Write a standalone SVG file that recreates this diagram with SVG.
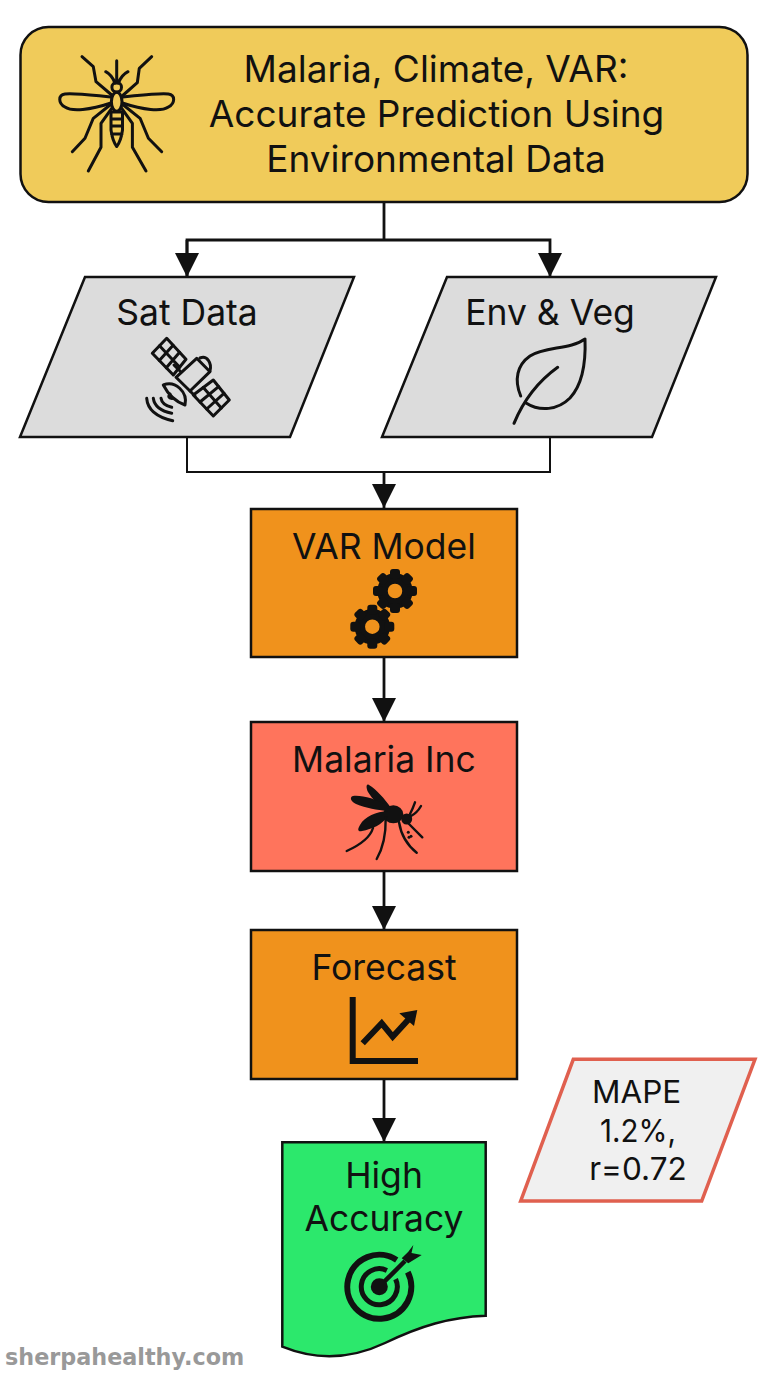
<svg xmlns="http://www.w3.org/2000/svg" width="768" height="1376" viewBox="0 0 768 1376">
<style>
text{font-family:"Inter","Liberation Sans",sans-serif;fill:#111;text-anchor:middle}
.t{font-size:35.5px}
.h{font-size:37px}
.m{font-size:31.5px}
.box{stroke:#111;stroke-width:2.5}
.ic{fill:none;stroke:#111;stroke-width:3;stroke-linecap:round;stroke-linejoin:round}
.c{fill:none;stroke:#111;stroke-width:2.8}
.c2{fill:none;stroke:#111;stroke-width:2}
</style>
<defs>
<marker id="ah" markerUnits="userSpaceOnUse" markerWidth="24" markerHeight="24" refX="24" refY="12" orient="auto"><path d="M0,0L24,12L0,24Z" fill="#111"/></marker>
<g id="gear"><circle r="12.5" fill="none" stroke="#111" stroke-width="10.500"/>
<g fill="#111"><rect x="-5" y="-22" width="10" height="10" rx="3"/><rect x="-5" y="-22" width="10" height="10" rx="3" transform="rotate(45)"/><rect x="-5" y="-22" width="10" height="10" rx="3" transform="rotate(90)"/><rect x="-5" y="-22" width="10" height="10" rx="3" transform="rotate(135)"/><rect x="-5" y="-22" width="10" height="10" rx="3" transform="rotate(180)"/><rect x="-5" y="-22" width="10" height="10" rx="3" transform="rotate(225)"/><rect x="-5" y="-22" width="10" height="10" rx="3" transform="rotate(270)"/><rect x="-5" y="-22" width="10" height="10" rx="3" transform="rotate(315)"/></g></g>
</defs>
<rect width="768" height="1376" fill="#fff"/>
<g id="connectors">
<path class="c" d="M384,202V240M187,277V240H550V277" marker-end="url(#ah)"/>
<path class="c" d="M187,240V277" marker-end="url(#ah)"/>
<path class="c2" d="M187,437V472H550V437"/>
<path class="c" d="M384,472V508" marker-end="url(#ah)"/>
<path class="c" d="M384,657V722" marker-end="url(#ah)"/>
<path class="c" d="M384,871V930" marker-end="url(#ah)"/>
<path class="c" d="M384,1079V1142" marker-end="url(#ah)"/>
</g>
<g id="title">
<rect class="box" x="20.500" y="27" width="727" height="175" rx="28" fill="#F0CB5A"/>
<text class="h" x="436" y="82">Malaria, Climate, VAR:</text>
<text class="h" x="436.500" y="127">Accurate Prediction Using</text>
<text class="h" x="436" y="172">Environmental Data</text>
<g class="ic">
<path d="M82,56.700L93.300,66.700L96,81.700L111.700,95M151.700,56.700L139.300,68.300L137.300,82.700L123.300,95"/>
<path d="M116.700,60.700V83M105.700,71.700Q112,75 115,83.300M128,71.700Q121.500,75 118.300,83.300"/>
<circle cx="116.700" cy="87.300" r="4.800"/>
<ellipse cx="116.700" cy="101.700" rx="5.300" ry="9.500"/>
<path d="M111,112V130Q112.500,141 116.700,146.500Q121,141 122.500,130V112ZM111,119H122.500M111,126H122.500M111.500,134H122"/>
<path d="M111,97C90,95 75,93 65,94C58,95 58,103 65,107C72,112 90,110 111,103"/>
<path d="M122.400,97C143.400,95 158.400,93 168.400,94C175.400,95 175.400,103 168.400,107C161.400,112 143.400,110 122.400,103"/>
<path d="M110,105L93.300,118.300L85,138.300L72.300,151.700M111.700,108.300L101,123.300V147.300L88.300,171"/>
<path d="M123.400,105L140.100,118.300L148.400,138.300L161.700,151.700M121.700,108.300L132.400,123.300V147.300L146,171"/>
</g>
</g>
<g id="sat-data">
<polygon class="box" points="85,277 354,277 290,437 20,437" fill="#DCDCDC"/>
<text class="t" x="187" y="325">Sat Data</text>
<g class="ic">
<polygon points="166.700,338.300 186,359.300 173.300,375 152.300,353.300"/>
<path d="M173.100,345.300L159.300,360.500M179.600,352.300L166.300,367.800M159.500,345.800L179.700,367.200"/>
<polygon points="213.300,380 229.300,400 213.300,416 193.300,395"/>
<path d="M218.600,386.700L200,402M224,393.300L206.700,409M203.300,387.500L221.300,408"/>
<polygon points="196.700,358.300 210,371.700 190,391 176,377.300"/>
<path d="M200,358C207,355 212,363 210,371M180,371L174,365M190,391L195,396"/>
<path d="M163.300,385C175,380 188,392 185,405Q171,400 163.300,385Z"/>
<path d="M170,394Q167,398 172,398.500"/>
<path d="M146.700,398.300Q148,415 172.700,420.700M153.300,398.300Q155,410 171.700,413.300M161,398.300Q162,405 171.700,407.300"/>
</g>
</g>
<g id="env-veg">
<polygon class="box" points="447,277 716,277 652,437 382,437" fill="#DCDCDC"/>
<text class="t" x="550" y="325">Env &amp; Veg</text>
<g class="ic">
<path d="M520.700,396C514,380 517,365 530,356C545,346 570,350 585,339C586,365 582,385 570,398C558,410 540,412 526,403"/>
<path d="M557.700,367.300C540,380 525,397 514,423.300"/>
</g>
</g>
<g id="var-model">
<rect class="box" x="251" y="509" width="266" height="148" fill="#F0921C"/>
<text class="t" x="384" y="559">VAR Model</text>
<use href="#gear" x="395" y="591"/>
<use href="#gear" x="372.300" y="626.700"/>
</g>
<g id="malaria-inc">
<rect class="box" x="251" y="722" width="266" height="149" fill="#FF745C"/>
<text class="t" x="384" y="772">Malaria Inc</text>
<g fill="#111">
<ellipse cx="393.300" cy="814.300" rx="10" ry="9"/>
<circle cx="406.700" cy="819" r="5.500"/>
<path d="M391,808C385,799 376,789 369,785C366,783 366,788 368,792C372,799 380,806 385,809Z"/>
<path d="M386,805C376,799 362,795 353,796C349,797 351,802 356,804C366,808 378,810 386,811Z"/>
<path d="M388,811C376,812 365,816 360,825C357,830 358,832 362,831C372,829 382,825 388,816Z"/>
<circle cx="408.300" cy="832.300" r="1.500"/><circle cx="411" cy="836.300" r="1.500"/><circle cx="409" cy="837.300" r="1.500"/>
</g>
<g fill="none" stroke="#111" stroke-linecap="round" stroke-width="2.400">
<path d="M373,828C370,838 360,845 346.700,851"/>
<path d="M385.700,818C386,835 383,848 376.700,859"/>
<path d="M399,822C401,835 407,845 416.700,852.700"/>
<path d="M408,823L422.300,837.300"/>
<path d="M410,814Q413,808 415,802.300M411,816Q417,813 421,806"/>
</g>
</g>
<g id="forecast">
<rect class="box" x="251" y="930" width="266" height="149" fill="#F0921C"/>
<text class="t" x="384" y="980">Forecast</text>
<path d="M352.700,997V1061H418" fill="none" stroke="#111" stroke-width="6"/>
<path d="M362.700,1043.300L381.700,1023.300L392.700,1036.700L408,1020" fill="none" stroke="#111" stroke-width="6"/>
<polygon points="399.300,1013.300 417.300,1010 414,1026" fill="#111"/>
</g>
<g id="high-accuracy">
<path class="box" d="M282.300,1142.300H485.700V1315.700C450,1317 420,1326 385,1343C345,1362 310,1358 282.300,1346.700Z" fill="#2CE86C"/>
<text class="t" x="384" y="1188">High</text>
<text class="t" x="384" y="1231">Accuracy</text>
<g fill="none" stroke="#111">
<path d="M396.700,1259.900A32,32 0 1 0 407.800,1272.200" stroke-width="6"/>
<path d="M386.900,1270.400A18,18 0 1 0 395.600,1279.100" stroke-width="5"/>
<path d="M379.300,1286.700L405,1261" stroke-width="4.500"/>
</g>
<circle cx="379.300" cy="1286.700" r="8.500" fill="#111"/>
<polygon points="413.300,1245 411.500,1253 421.700,1255 408.300,1263.300 401.700,1258.300 408.300,1251.700" fill="#111"/>
</g>
<g id="metrics">
<polygon points="573.300,1059.300 755,1059.300 701.700,1201 520.700,1201" fill="#F0F0F0" stroke="#E0604F" stroke-width="3.500"/>
<text class="m" x="636.700" y="1103">MAPE</text>
<text class="m" x="638" y="1141.700" textLength="76" lengthAdjust="spacingAndGlyphs">1.2%,</text>
<text class="m" x="638" y="1180">r=0.72</text>
</g>
<text id="watermark" x="5" y="1365" style="font-family:'DejaVu Sans',sans-serif;font-weight:700;font-size:22.3px;fill:#999;text-anchor:start">sherpahealthy.com</text>
</svg>
